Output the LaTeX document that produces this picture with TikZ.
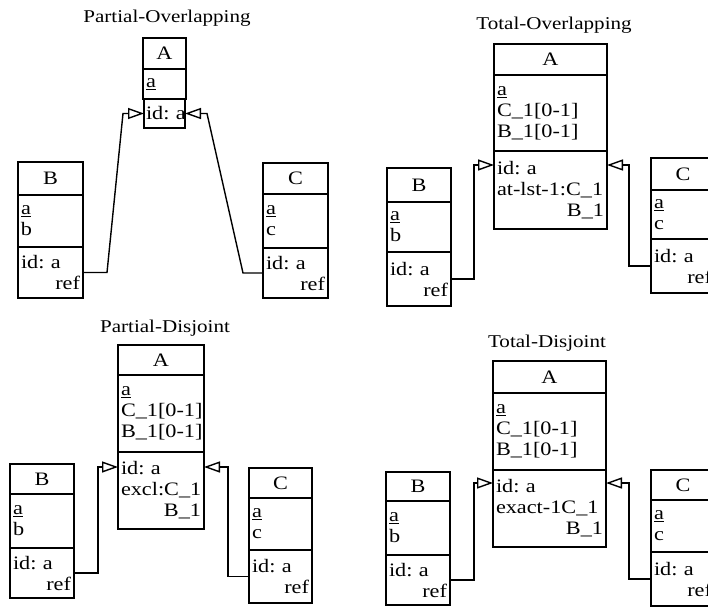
\documentclass[tikz,border=0pt]{standalone}
\usepackage{fontspec}
\setmainfont{Liberation Serif}[FakeStretch=1.17]
\usetikzlibrary{positioning,arrows.meta}

\newcommand\boxfont{\fontsize{19}{21}\selectfont\frenchspacing
  \exhyphenpenalty 10000 \hyphenpenalty 10000 }

\tikzset{
  part/.style={draw, line width=1.4pt, outer sep=0pt, inner xsep=3pt, inner ysep=0pt,
    align=left, font=\boxfont},
  head/.style={part, align=center},
  ttl/.style={font=\fontsize{18}{21}\selectfont},
  gen/.style={line width=1.4pt, -{Triangle[open,length=16pt,width=11pt]}},
}

\begin{document}
\begin{tikzpicture}[x=1pt, y=-1pt]
  \useasboundingbox (0,0) rectangle (708,607);
  \clip (0,0) rectangle (708,607);

  % Partial-Overlapping
  \node[ttl] (po-t) at (167,18) {Partial-Overlapping};
  \node[head, anchor=north, text width=37pt, minimum height=31pt] (po-A-h) at (164.5,38) {A};
  \node[part, below=0pt of po-A-h, text width=37pt, minimum height=30pt] (po-A-at) {\underline{a}};
  \node[part, below=0pt of po-A-at, text width=37pt, minimum height=29pt, inner xsep=2pt] (po-A-id) {id:~a};
  \node[head, anchor=north, text width=59pt, minimum height=33pt] (po-B-h) at (50.5,162) {B};
  \node[part, below=0pt of po-B-h, text width=59pt, minimum height=52pt] (po-B-at) {\underline{a}\\b};
  \node[part, below=0pt of po-B-at, text width=59pt, minimum height=51pt] (po-B-id) {id: a\\\mbox{}\hfill ref\hspace*{4pt}};
  \node[head, anchor=north, text width=59pt, minimum height=31pt] (po-C-h) at (295.5,163) {C};
  \node[part, below=0pt of po-C-h, text width=59pt, minimum height=54pt] (po-C-at) {\underline{a}\\c};
  \node[part, below=0pt of po-C-at, text width=59pt, minimum height=50pt] (po-C-id) {id: a\\\mbox{}\hfill ref\hspace*{4pt}};
  \coordinate (po-tl) at (po-A-id.west);
  \coordinate (po-tr) at (po-A-id.east);
  \draw[gen] (po-B-id.east) -- ++(24,0) -- ([xshift=-21pt]po-tl) -- (po-tl);
  \draw[gen] (po-C-id.west) -- ++(-20,0) -- ([xshift=22pt]po-tr) -- (po-tr);

  % Total-Overlapping
  \node[ttl] (to-t) at (554,25) {Total-Overlapping};
  \node[head, anchor=north, text width=107pt, minimum height=31pt] (to-A-h) at (550.5,44) {A};
  \node[part, below=0pt of to-A-h, text width=107pt, minimum height=76pt] (to-A-at) {\underline{a}\\C\_1[0-1]\\B\_1[0-1]};
  \node[part, below=0pt of to-A-at, text width=107pt, minimum height=78pt] (to-A-id) {id: a\\at-lst-1:C\_1\\\mbox{}\hfill B\_1};
  \node[head, anchor=north, text width=58pt, minimum height=34pt] (to-B-h) at (419,168) {B};
  \node[part, below=0pt of to-B-h, text width=58pt, minimum height=50pt] (to-B-at) {\underline{a}\\b};
  \node[part, below=0pt of to-B-at, text width=58pt, minimum height=54pt] (to-B-id) {id: a\\\mbox{}\hfill ref\hspace*{4pt}};
  \node[head, anchor=north, text width=58pt, minimum height=32pt] (to-C-h) at (683,158) {C};
  \node[part, below=0pt of to-C-h, text width=58pt, minimum height=49pt] (to-C-at) {\underline{a}\\c};
  \node[part, below=0pt of to-C-at, text width=58pt, minimum height=54pt] (to-C-id) {id: a\\\mbox{}\hfill ref\hspace*{4pt}};
  \coordinate (to-tl) at ([yshift=-14pt]to-A-id.north west);
  \coordinate (to-tr) at ([yshift=-14pt]to-A-id.north east);
  \draw[gen] (to-B-id.east) -| ([xshift=-20pt]to-tl) -- (to-tl);
  \draw[gen] (to-C-id.west) -| ([xshift=22pt]to-tr) -- (to-tr);

  % Partial-Disjoint
  \node[ttl] (pd-t) at (165,328) {Partial-Disjoint};
  \node[head, anchor=north, text width=80pt, minimum height=30pt] (pd-A-h) at (161,345) {A};
  \node[part, below=0pt of pd-A-h, text width=80pt, minimum height=77pt] (pd-A-at) {\underline{a}\\C\_1[0-1]\\B\_1[0-1]};
  \node[part, below=0pt of pd-A-at, text width=80pt, minimum height=77pt] (pd-A-id) {id: a\\excl:C\_1\\\mbox{}\hfill B\_1};
  \node[head, anchor=north, text width=58pt, minimum height=30pt] (pd-B-h) at (42,464) {B};
  \node[part, below=0pt of pd-B-h, text width=58pt, minimum height=54pt] (pd-B-at) {\underline{a}\\b};
  \node[part, below=0pt of pd-B-at, text width=58pt, minimum height=50pt] (pd-B-id) {id: a\\\mbox{}\hfill ref\hspace*{4pt}};
  \node[head, anchor=north, text width=57pt, minimum height=30pt] (pd-C-h) at (280.5,468) {C};
  \node[part, below=0pt of pd-C-h, text width=57pt, minimum height=52pt] (pd-C-at) {\underline{a}\\c};
  \node[part, below=0pt of pd-C-at, text width=57pt, minimum height=53pt] (pd-C-id) {id: a\\\mbox{}\hfill ref\hspace*{4pt}};
  \coordinate (pd-tl) at ([yshift=-15pt]pd-A-id.north west);
  \coordinate (pd-tr) at ([yshift=-15pt]pd-A-id.north east);
  \draw[gen] (pd-B-id.east) -| ([xshift=-20pt]pd-tl) -- (pd-tl);
  \draw[gen] (pd-C-id.west) -| ([xshift=24pt]pd-tr) -- (pd-tr);

  % Total-Disjoint
  \node[ttl] (td-t) at (547,343) {Total-Disjoint};
  \node[head, anchor=north, text width=107pt, minimum height=32pt] (td-A-h) at (549.5,361) {A};
  \node[part, below=0pt of td-A-h, text width=107pt, minimum height=77pt] (td-A-at) {\underline{a}\\C\_1[0-1]\\B\_1[0-1]};
  \node[part, below=0pt of td-A-at, text width=107pt, minimum height=77pt] (td-A-id) {id: a\\exact-1C\_1\\\mbox{}\hfill B\_1};
  \node[head, anchor=north, text width=58pt, minimum height=29pt] (td-B-h) at (418,472) {B};
  \node[part, below=0pt of td-B-h, text width=58pt, minimum height=54pt] (td-B-at) {\underline{a}\\b};
  \node[part, below=0pt of td-B-at, text width=58pt, minimum height=50pt] (td-B-id) {id: a\\\mbox{}\hfill ref\hspace*{4pt}};
  \node[head, anchor=north, text width=58pt, minimum height=30pt] (td-C-h) at (683,470) {C};
  \node[part, below=0pt of td-C-h, text width=58pt, minimum height=52pt] (td-C-at) {\underline{a}\\c};
  \node[part, below=0pt of td-C-at, text width=58pt, minimum height=54pt] (td-C-id) {id: a\\\mbox{}\hfill ref\hspace*{4pt}};
  \coordinate (td-tl) at ([yshift=-13pt]td-A-id.north west);
  \coordinate (td-tr) at ([yshift=-13pt]td-A-id.north east);
  \draw[gen] (td-B-id.east) -| ([xshift=-19pt]td-tl) -- (td-tl);
  \draw[gen] (td-C-id.west) -| ([xshift=23pt]td-tr) -- (td-tr);
\end{tikzpicture}
\end{document}
